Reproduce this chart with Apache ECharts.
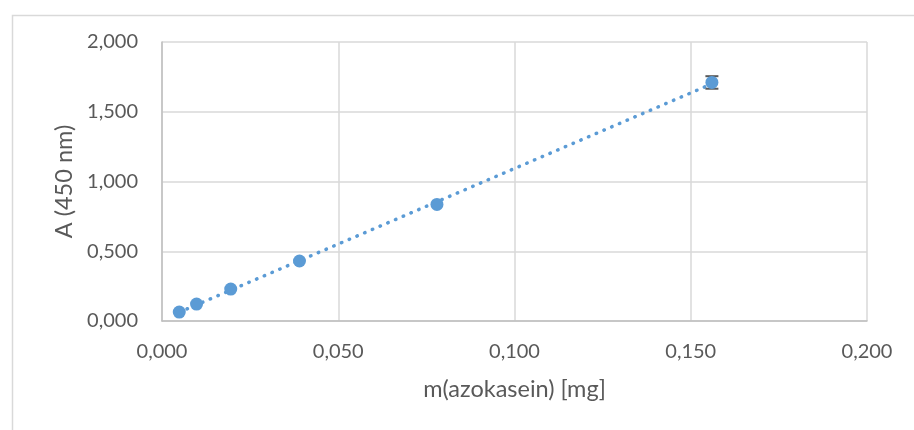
<!DOCTYPE html>
<html>
<head>
<meta charset="utf-8">
<script src="https://cdn.jsdelivr.net/npm/echarts@6/dist/echarts.min.js"></script>
<style>html,body{margin:0;padding:0;background:#fff;}#c{width:914px;height:430px;}</style>
</head>
<body>
<div id="c"></div>
<script>
// Data
const xValues = [0.0049, 0.0098, 0.0195, 0.039, 0.078, 0.156];
const yValues = [0.064, 0.121, 0.229, 0.43, 0.836, 1.71];
const yErrors = [0, 0, 0, 0, 0, 0.045];
const trendX = [0.0049, 0.156];
const trendY = [0.063, 1.70];
const xTitle = 'm(azokasein) [mg]';
const yTitle = 'A (450 nm)';

const points = xValues.map((x, i) => [x, yValues[i]]);
const errData = xValues.map((x, i) => [x, yValues[i], yErrors[i]]);
const trendData = trendX.map((x, i) => [x, trendY[i]]);

const fmt = v => v.toFixed(3).replace('.', ',');
const FONT = 'Lato';
const TXT = '#595959';

const chart = echarts.init(document.getElementById('c'), null, {renderer: 'canvas'});
chart.setOption({
  animation: false,
  backgroundColor: '#fff',
  textStyle: {fontFamily: FONT},
  graphic: [{
    type: 'rect', left: 10, top: 13, silent: true, z: -10,
    shape: {x: 0, y: 0, width: 930, height: 440},
    style: {fill: 'none', stroke: '#D9D9D9', lineWidth: 1.5}
  }],
  grid: {left: 162, right: 47, top: 42, bottom: 109, containLabel: false},
  xAxis: {
    type: 'value', min: 0, max: 0.2, interval: 0.05,
    name: xTitle, nameLocation: 'middle', nameGap: 56,
    nameTextStyle: {color: TXT, fontSize: 23.5, fontFamily: FONT},
    axisLine: {show: true, lineStyle: {color: '#BFBFBF', width: 1.5}},
    axisTick: {show: false},
    axisLabel: {color: TXT, fontSize: 20, fontFamily: FONT, margin: 21, formatter: fmt},
    splitLine: {show: true, lineStyle: {color: '#D9D9D9', width: 1.5}}
  },
  yAxis: {
    type: 'value', min: 0, max: 2, interval: 0.5,
    name: yTitle, nameLocation: 'middle', nameGap: 83, nameRotate: 90,
    nameTextStyle: {color: TXT, fontSize: 23.5, fontFamily: FONT},
    axisLine: {show: true, lineStyle: {color: '#BFBFBF', width: 1.5}},
    axisTick: {show: false},
    axisLabel: {color: TXT, fontSize: 20, fontFamily: FONT, margin: 24, formatter: fmt},
    splitLine: {show: true, lineStyle: {color: '#D9D9D9', width: 1.5}}
  },
  series: [
    {
      type: 'line', data: trendData, showSymbol: false, symbol: 'none', z: 2,
      lineStyle: {color: '#5B9BD5', width: 3.5, type: [0.5, 7.9], cap: 'round'}
    },
    {
      type: 'custom', z: 3,
      data: errData,
      renderItem: function (params, api) {
        const x = api.value(0), y = api.value(1), e = api.value(2);
        if (!e) return null;
        const top = api.coord([x, y + e]);
        const bot = api.coord([x, y - e]);
        const hw = 6.5;
        const style = {stroke: '#595959', lineWidth: 2};
        return {
          type: 'group',
          children: [
            {type: 'line', shape: {x1: top[0], y1: top[1], x2: bot[0], y2: bot[1]}, style: style},
            {type: 'line', shape: {x1: top[0] - hw, y1: top[1], x2: top[0] + hw, y2: top[1]}, style: style},
            {type: 'line', shape: {x1: bot[0] - hw, y1: bot[1], x2: bot[0] + hw, y2: bot[1]}, style: style}
          ]
        };
      }
    },
    {
      type: 'scatter', data: points, symbol: 'circle', symbolSize: 13, z: 4,
      itemStyle: {color: '#5B9BD5', opacity: 1}
    }
  ]
});
</script>
</body>
</html>
